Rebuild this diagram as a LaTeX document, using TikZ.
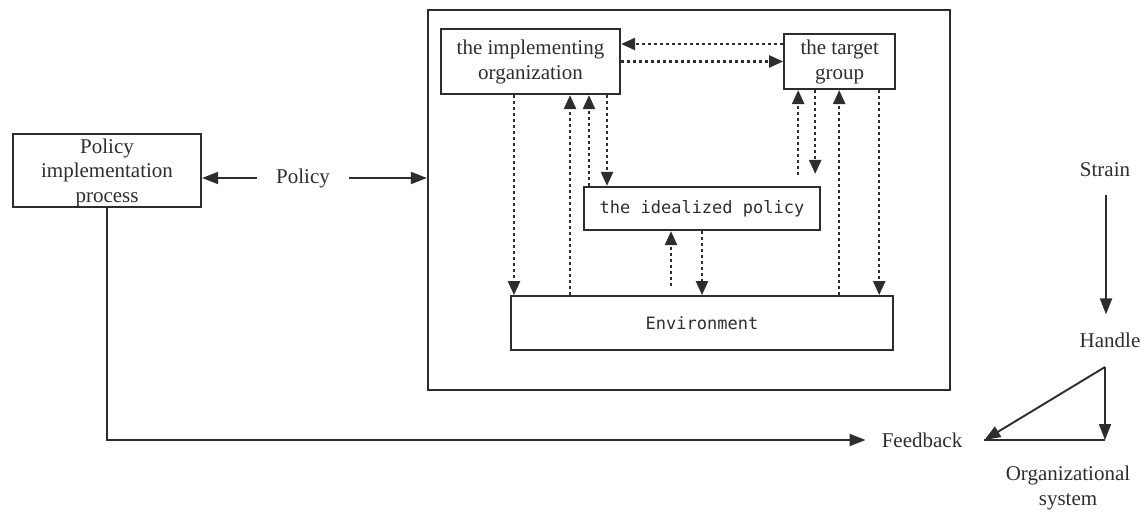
\documentclass[tikz,border=0pt]{standalone}
\usepackage{fontspec}
\setmainfont{Liberation Serif}
\newfontfamily\monofnt{DejaVu Sans Mono}
\usetikzlibrary{positioning,arrows.meta}
\definecolor{ink}{RGB}{45,45,45}
\tikzstyle{rect} = [rectangle, draw=ink, line width=2.2pt, align=center, text=ink, inner sep=1pt]
\tikzstyle{arrow} = [line width=1.9pt, draw=ink, -{Triangle[length=16pt,width=12pt]}]
\tikzstyle{darrow} = [line width=2.4pt, draw=ink, dash pattern=on 3pt off 3pt, -{Triangle[length=14pt,width=12pt]}]
\tikzstyle{line} = [line width=1.9pt, draw=ink]

\begin{document}
\begin{tikzpicture}[x=1pt, y=-1pt, font=\fontsize{21}{25}\selectfont]
\tikzset{%
	lbl/.style = {text=ink, align=center, inner sep=1pt},
	mono/.style = {font=\monofnt\fontsize{17}{19}\selectfont}
}
\useasboundingbox (0,0) rectangle (1140,513);

% the outer frame and its boxes
\node(frm) [rect, minimum width=522pt, minimum height=380pt] at (689,200) {};
\node(io) [rect, minimum width=179pt, minimum height=65pt] at (530.5,61.5) {the implementing\\organization};
\node(tg) [rect, minimum width=111pt, minimum height=55pt, right=162pt of io] {the target\\group};
\node(ip) [rect, mono, minimum width=236pt, minimum height=43pt] at (702,208.5) {the idealized policy};
\node(env) [rect, mono, minimum width=382pt, minimum height=54pt, below=64pt of ip] {Environment};

% left side
\node(pip) [rect, minimum width=188pt, minimum height=73pt, inner sep=0pt,
	label={[lbl, yshift=-2pt, font=\fontsize{21}{24.5}\selectfont]center:{Policy\\implementation\\process}}] at (107,170.5) {};
\node(pol) [lbl, inner xsep=19pt] at (303,178) {Policy};
\node(fb) [lbl, inner xsep=16pt] at (922,440) {Feedback};

% right side
\node(st) [lbl] at (1105,170) {Strain};
\node(hd) [lbl] at (1110,340) {Handle};
\node(os) [lbl] at (1068,488) {Organizational\\system};

\draw [arrow] (pol) -- (pip.east |- pol);
\draw [arrow] (pol) -- (frm.west |- pol);
\draw [arrow] (pip.south) -- (pip.south |- fb) -- (fb.west);

\draw [arrow, shorten <=17pt, shorten >=17pt] ([xshift=1pt]st.south) coordinate (p1) -- (p1 |- hd.north);
\coordinate (ha) at ([xshift=-5pt, yshift=-27pt]hd.center);
\coordinate (oc) at (ha |- fb);
\coordinate (fe) at ([xshift=6pt]fb.east);
\draw [arrow] (ha) -- (oc);
\draw [arrow] (ha) -- (fe);
\draw [line] (fe) -- (oc);

% dotted links under the implementing organization
\path ([xshift=-16.5pt]io.south) coordinate (a1)
	([xshift=39.5pt]io.south) coordinate (a2)
	([xshift=58.5pt]io.south) coordinate (a3)
	([xshift=76.5pt]io.south) coordinate (a4);
\draw [darrow] (a1) -- (a1 |- env.north);
\draw [darrow] (a2 |- env.north) -- (a2);
\draw [darrow] (a3 |- ip.north) -- (a3);
\draw [darrow] (a4) -- (a4 |- ip.north);

% dotted links under the target group
\path ([xshift=-41.5pt]tg.south) coordinate (b1)
	([xshift=-24.5pt]tg.south) coordinate (b2)
	([xshift=-0.5pt]tg.south) coordinate (b3)
	([xshift=39.5pt]tg.south) coordinate (b4);
\draw [darrow, shorten <=11pt] (b1 |- ip.north) -- (b1);
\draw [darrow, shorten >=12pt] (b2) -- (b2 |- ip.north);
\draw [darrow] (b3 |- env.north) -- (b3);
\draw [darrow] (b4) -- (b4 |- env.north);

% idealized policy and environment
\path ([xshift=-31pt]ip.south) coordinate (c1) (ip.south) coordinate (c2);
\draw [darrow, shorten <=9pt] (c1 |- env.north) -- (c1);
\draw [darrow] (c2) -- (c2 |- env.north);

% between the two upper boxes
\path ([yshift=17.5pt]tg.west) coordinate (d1) (tg.west) coordinate (d2);
\draw [darrow] (d1) -- (d1 -| io.east);
\draw [darrow] (d2 -| io.east) -- (d2);
\end{tikzpicture}
\end{document}
